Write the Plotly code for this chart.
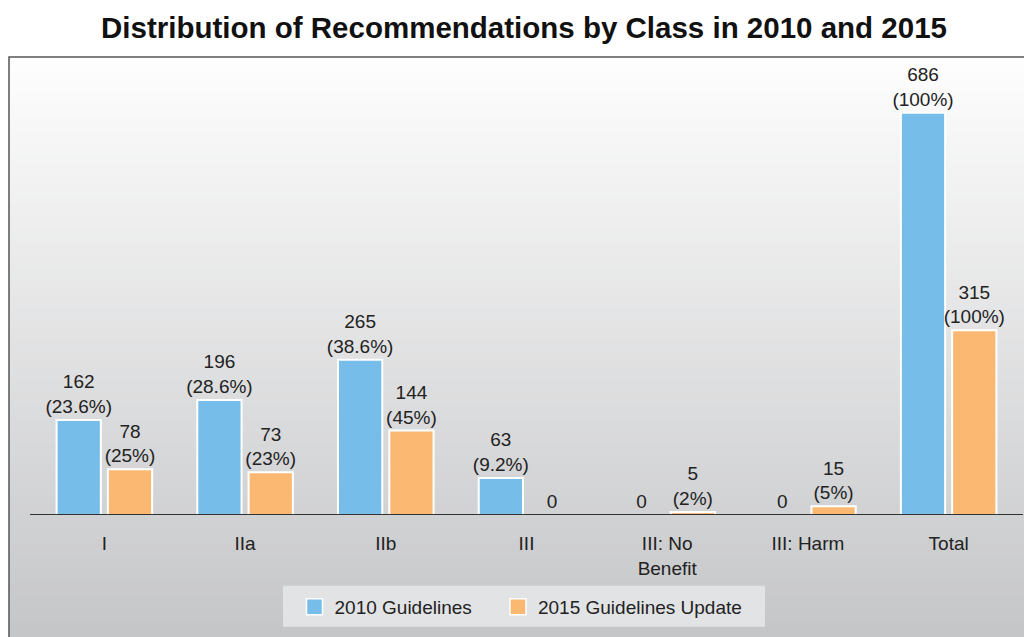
import plotly.graph_objects as go

categories = ["I", "IIa", "IIb", "III", "III: No<br>Benefit", "III: Harm", "Total"]
v2010 = [162, 196, 265, 63, 0, 0, 686]
v2015 = [78, 73, 144, 0, 5, 15, 315]
pct2010 = ["23.6%", "28.6%", "38.6%", "9.2%", "", "", "100%"]
pct2015 = ["25%", "23%", "45%", "", "2%", "5%", "100%"]
series_names = ["2010 Guidelines", "2015 Guidelines Update"]
colors = ["#77bde9", "#fbb872"]


def labels(vals, pcts):
    out = []
    for v, p in zip(vals, pcts):
        out.append(f"{v}<br>({p})" if p else f"{v}")
    return out


OFF = 8  # page body margin
W, H = 1032 - OFF, 637 - OFF
# reference-pixel geometry
ref_left, ref_right, ref_top, ref_base = 34, 1019, 58, 516
ml = ref_left - OFF
mr = W - (ref_right - OFF)
mt = ref_top - OFF
mb = H - (ref_base - OFF)
plot_h = H - mt - mb
plot_w = W - ml - mr
px_per_unit = 0.5875
ymax = plot_h / px_per_unit

FONT = "Liberation Sans, Arial, sans-serif"

fig = go.Figure()
for vals, pcts, name, col in [(v2010, pct2010, series_names[0], colors[0]),
                              (v2015, pct2015, series_names[1], colors[1])]:
    fig.add_trace(go.Bar(
        x=categories, y=vals, name=name, showlegend=False,
        marker=dict(color=col, line=dict(color="white", width=[0 if v == 0 else 2 for v in vals])),
        text=labels(vals, pcts), textposition="outside", cliponaxis=False,
        constraintext="none",
        textfont=dict(size=19, color="#222222", family=FONT),
    ))
# legend entries with larger square swatches
legend_names = [series_names[0] + "\u00a0" * 4, series_names[1]]
for name, col in zip(legend_names, colors):
    fig.add_trace(go.Scatter(
        x=[None], y=[None], mode="markers", name=name,
        marker=dict(symbol="square", size=16, color=col, line=dict(color="white", width=1.5)),
    ))


def ry(ypx):  # reference y px -> paper y
    return (ref_base - ypx) / plot_h


def rx(xpx):  # reference x px -> paper x
    return (xpx - ref_left) / plot_w


shapes = []
y_top_px, y_bot_px = 57, 645
n = 100
c_top = (254, 254, 254)
c_bot = (196, 197, 199)
for i in range(n):
    a = y_top_px + (y_bot_px - y_top_px) * i / n
    b = y_top_px + (y_bot_px - y_top_px) * (i + 1) / n + 2
    t = (i + 0.5) / n
    c = tuple(int(round(c_top[k] + (c_bot[k] - c_top[k]) * t)) for k in range(3))
    shapes.append(dict(type="rect", xref="paper", yref="paper",
                       x0=rx(9), x1=rx(1045), y0=ry(b), y1=ry(a),
                       fillcolor=f"rgb{c}", line=dict(width=0), layer="below"))
# legend box
shapes.append(dict(type="rect", xref="paper", yref="paper",
                   x0=rx(283), x1=rx(765), y0=ry(628), y1=ry(587),
                   fillcolor="#e2e3e5", line=dict(width=0), layer="below"))
# frame
shapes.append(dict(type="rect", xref="paper", yref="paper",
                   x0=rx(9), x1=rx(1045), y0=ry(650), y1=ry(57),
                   line=dict(color="#555555", width=1.5), fillcolor="rgba(0,0,0,0)", layer="below"))
# baseline
shapes.append(dict(type="line", xref="paper", yref="y",
                   x0=rx(30), x1=rx(1023), y0=0, y1=0,
                   line=dict(color="#333333", width=2), layer="above"))

fig.update_layout(
    width=W, height=H,
    margin=dict(l=ml, r=mr, t=mt, b=mb),
    paper_bgcolor="white", plot_bgcolor="rgba(0,0,0,0)",
    barmode="group", bargap=0.271, bargroupgap=0.137,
    font=dict(family=FONT, size=19, color="#222222"),
    title=dict(text="<b>Distribution of Recommendations by Class in 2010 and 2015</b>",
               x=(524 - OFF) / W, xref="container", xanchor="center",
               y=1 - (28 - OFF) / H, yanchor="middle",
               font=dict(size=29.5, color="#111111", family=FONT)),
    xaxis=dict(showgrid=False, showline=False, ticks="", ticklabelstandoff=15,
               tickfont=dict(size=19, color="#222222"), range=[-0.5, 6.5]),
    yaxis=dict(range=[0, ymax], visible=False),
    showlegend=True,
    legend=dict(orientation="h", x=rx(521), xanchor="center", y=ry(607), yanchor="middle",
                bgcolor="rgba(0,0,0,0)", borderwidth=0,
                font=dict(size=19, color="#222222", family=FONT),
                itemwidth=30, traceorder="normal"),
    shapes=shapes,
)

fig.write_html("out.html")
